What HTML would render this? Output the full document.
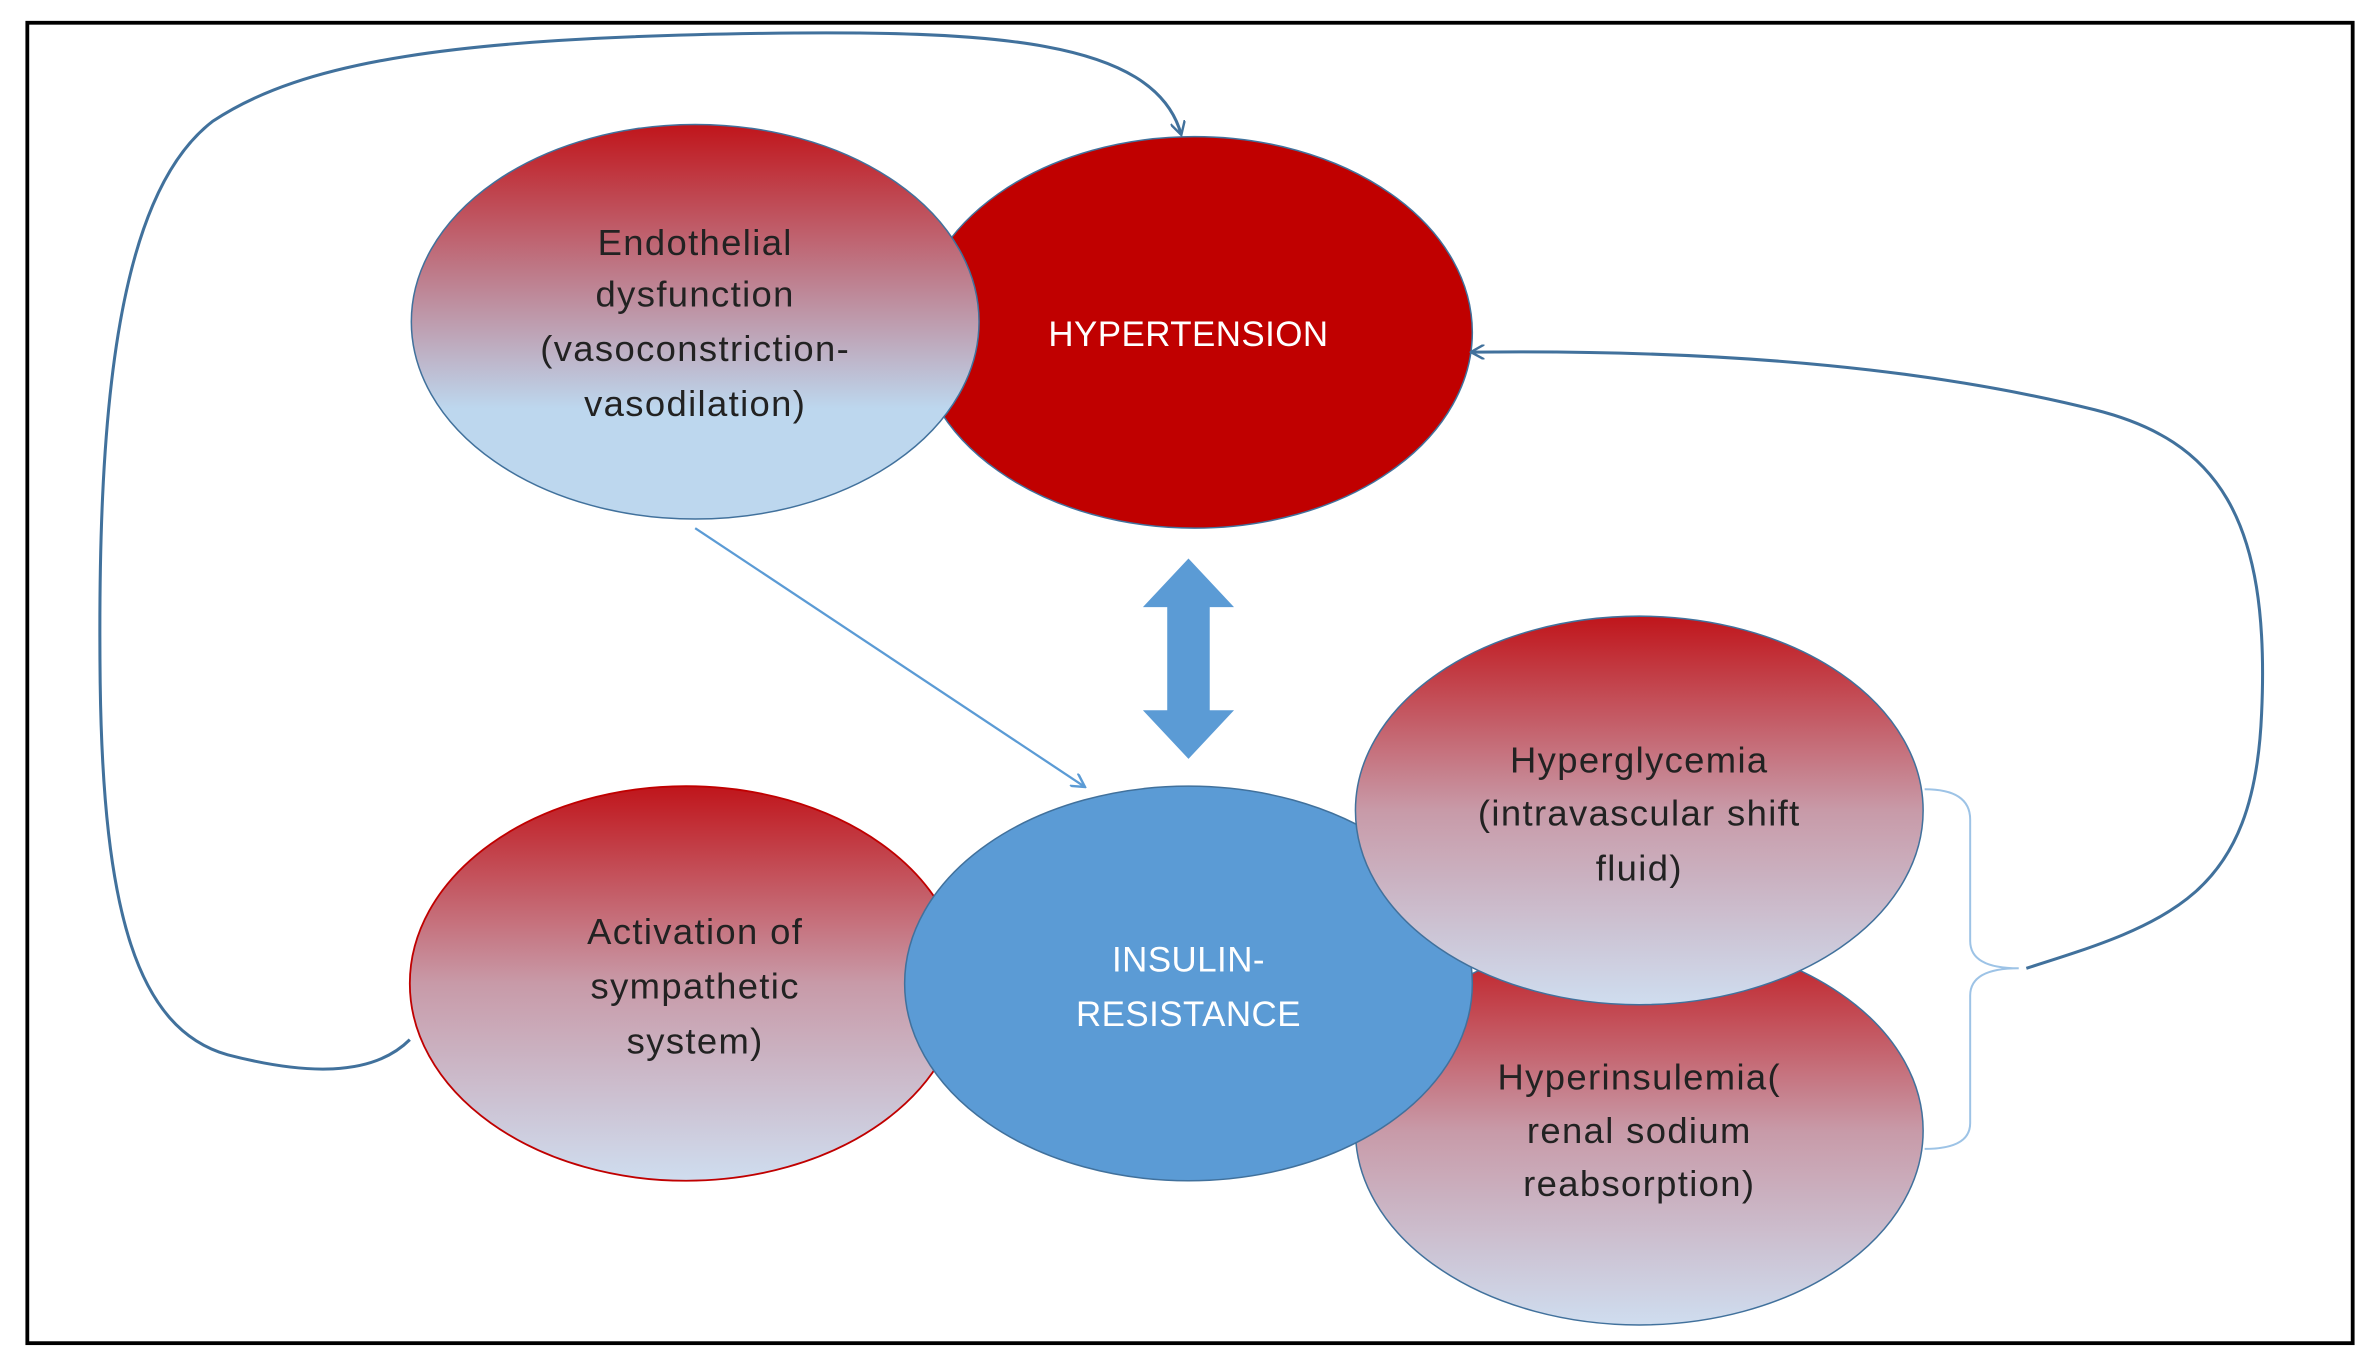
<!DOCTYPE html>
<html><head><meta charset="utf-8"><style>
html,body{margin:0;padding:0;background:#fff;}
svg{display:block;}
text{font-family:"Liberation Sans",sans-serif;font-size:24px;letter-spacing:0.9px;text-anchor:middle;fill:#222;}
text.w{fill:#fff;font-size:23px;letter-spacing:0.3px;}
</style></head><body>
<svg width="2380" height="1372" viewBox="0 0 1568 904" preserveAspectRatio="none" xmlns="http://www.w3.org/2000/svg">
<defs>
<linearGradient id="g" x1="0" y1="0" x2="0" y2="1">
<stop offset="0" stop-color="#C0151B"/>
<stop offset="0.72" stop-color="#BDD7EE"/>
<stop offset="1" stop-color="#BDD7EE"/>
</linearGradient>
<linearGradient id="g2" x1="0" y1="0" x2="0" y2="1">
<stop offset="0" stop-color="#C0151B"/>
<stop offset="0.5" stop-color="#C89AA8"/>
<stop offset="1" stop-color="#CFDDEF"/>
</linearGradient>
<marker id="ah" markerWidth="10" markerHeight="10" refX="8" refY="5" orient="auto" markerUnits="userSpaceOnUse">
<path d="M0,0 L9,5 L0,10" fill="none" stroke="#41719C" stroke-width="1.6"/>
</marker>
<marker id="ah2" markerWidth="10" markerHeight="10" refX="8" refY="5" orient="auto" markerUnits="userSpaceOnUse">
<path d="M0,0 L9,5 L0,10" fill="none" stroke="#5B9BD5" stroke-width="1.6"/>
</marker>
</defs>
<rect x="18" y="15" width="1532" height="870" fill="#fff" stroke="#000" stroke-width="2.5"/>

<ellipse cx="787" cy="219" rx="183" ry="129" fill="#C00000" stroke="#41719C" stroke-width="1"/>
<ellipse cx="458" cy="212" rx="187" ry="130" fill="url(#g)" stroke="#41719C" stroke-width="1"/>
<text x="458" y="168">Endothelial</text>
<text x="458" y="202">dysfunction</text>
<text x="458" y="238">(vasoconstriction-</text>
<text x="458" y="274">vasodilation)</text>
<text class="w" x="783" y="228">HYPERTENSION</text>

<path d="M783,368 L813,400 L797,400 L797,468 L813,468 L783,500 L753,468 L769,468 L769,400 L753,400 Z" fill="#5B9BD5"/>

<line x1="458" y1="348" x2="714" y2="518" stroke="#5B9BD5" stroke-width="1.5" marker-end="url(#ah2)"/>

<ellipse cx="452" cy="648" rx="182" ry="130" fill="url(#g2)" stroke="#C00000" stroke-width="1.2"/>
<text x="458" y="622">Activation of</text>
<text x="458" y="658">sympathetic</text>
<text x="458" y="694">system)</text>

<ellipse cx="1080" cy="745" rx="187" ry="128" fill="url(#g2)" stroke="#41719C" stroke-width="1"/>
<ellipse cx="783" cy="648" rx="187" ry="130" fill="#5B9BD5" stroke="#41719C" stroke-width="1"/>
<text class="w" x="783" y="640">INSULIN-</text>
<text class="w" x="783" y="676">RESISTANCE</text>

<ellipse cx="1080" cy="534" rx="187" ry="128" fill="url(#g2)" stroke="#41719C" stroke-width="1"/>
<text x="1080" y="509">Hyperglycemia</text>
<text x="1080" y="544">(intravascular shift</text>
<text x="1080" y="580">fluid)</text>
<text x="1080" y="718">Hyperinsulemia(</text>
<text x="1080" y="753">renal sodium</text>
<text x="1080" y="788">reabsorption)</text>

<path d="M1268,520 Q1298,520 1298,540 L1298,620 Q1298,638 1330,638 Q1298,638 1298,656 L1298,740 Q1298,757 1268,757" fill="none" stroke="#9DC3E6" stroke-width="1.3"/>

<path d="M270,685 C245,710 200,708 150,695 C90,678 68,600 66,450 C64,280 75,130 140,80 C200,40 300,25 500,22 C650,20 760,25 778,88" fill="none" stroke="#41719C" stroke-width="2" marker-end="url(#ah)"/>
<path d="M1335,638 C1430,608 1485,590 1490,470 C1496,340 1460,290 1380,270 C1280,245 1150,230 970,232" fill="none" stroke="#41719C" stroke-width="2" marker-end="url(#ah)"/>
</svg>
</body></html>
